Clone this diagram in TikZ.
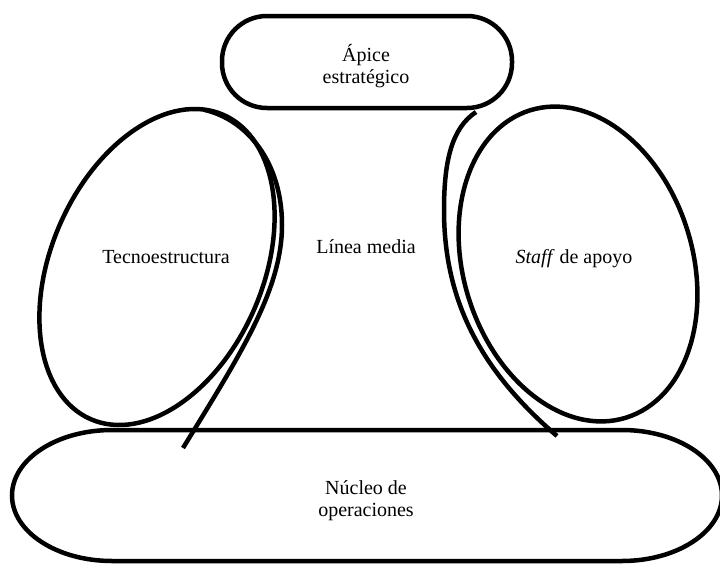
\documentclass[tikz,border=0pt]{standalone}
\usepackage{fontspec}
\setmainfont{Liberation Serif}
\usetikzlibrary{shapes.geometric}
\begin{document}
\begin{tikzpicture}[x=1pt,y=-1pt,
  outline/.style={draw=black,line width=4.5pt},
  label/.style={font=\fontsize{20}{22}\selectfont,align=center,inner sep=0pt},
  lobe/.style={outline,ellipse,inner sep=0pt,outer sep=0pt}]
\useasboundingbox (0,0) rectangle (720,565);

% strategic apex: stadium at the top
\node (apice) [outline,rectangle,rounded corners=45pt,minimum width=290pt,
  minimum height=92pt,inner sep=0pt] at (367,62) {};
\node[label] at (366,66) {Ápice\\estratégico};

% operating core: wide box with elliptical ends
\node (nucleo) [minimum width=710pt,minimum height=131pt,inner sep=0pt] at (367,495.5) {};
\draw[outline] (112,430) -- (622,430)
  arc[start angle=-90,end angle=0,x radius=100,y radius=65.5]
  arc[start angle=0,end angle=90,x radius=100,y radius=65.5]
  -- (112,561)
  arc[start angle=90,end angle=180,x radius=100,y radius=65.5]
  arc[start angle=180,end angle=270,x radius=100,y radius=65.5] -- cycle;
\node[label] at (366,501) {Núcleo de\\operaciones};

% technostructure and support staff
\node (tecno) [lobe,minimum width=212pt,minimum height=332pt,rotate=-23.5] at (157,267) {};
\node (staff) [lobe,minimum width=229pt,minimum height=322pt,rotate=17.4] at (578,264) {};
\node[label,anchor=base] at (166,263) {Tecnoestructura};
\node[label,anchor=base] at (574,263) {\textit{Staff} de apoyo};

% middle line
\node (linea) [label,anchor=base] at (366,253) {Línea media};

% lines bounding the middle line
\coordinate (lt) at (205,110);
\coordinate (lb) at (183,448);
\coordinate (rt) at (476,112);
\coordinate (rb) at (557,436);
\draw[outline] (lt) .. controls (247,120) and (282,162) .. (282,225)
  .. controls (282,290) and (240,355) .. (lb);
\draw[outline] (rt) .. controls (452,128) and (444,160) .. (444,210)
  .. controls (444,300) and (480,370) .. (rb);
\end{tikzpicture}
\end{document}
